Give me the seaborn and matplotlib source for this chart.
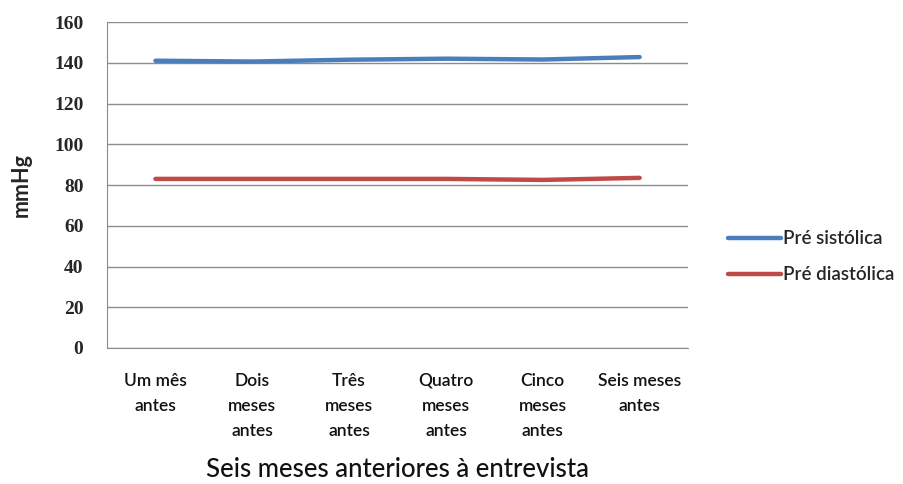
import matplotlib
matplotlib.use("Agg")
import matplotlib.pyplot as plt
import seaborn as sns
import pandas as pd

# Monthly average blood pressure (mmHg)
meses = ["Um mês\nantes", "Dois\nmeses\nantes", "Três\nmeses\nantes",
         "Quatro\nmeses\nantes", "Cinco\nmeses\nantes", "Seis meses\nantes"]
sistolica = [141.0, 140.6, 141.5, 142.0, 141.6, 142.8]
diastolica = [83.0, 83.0, 83.0, 83.0, 82.5, 83.5]
series = ["Pré sistólica", "Pré diastólica"]
cores = ["#4A7EBB", "#BE4B48"]
yticks = [0, 20, 40, 60, 80, 100, 120, 140, 160]

df = pd.DataFrame({
    "pos": list(range(len(meses))) * 2,
    "valor": sistolica + diastolica,
    "serie": [series[0]] * len(meses) + [series[1]] * len(meses),
})

sns.set_style("white")
fig = plt.figure(figsize=(9.04, 4.84), dpi=100)
ax = fig.add_axes([0.1184, 0.281, 0.6427, 0.6735])

sns.lineplot(data=df, x="pos", y="valor", hue="serie", palette=cores,
             linewidth=3.2, ax=ax, sort=False, legend=True)

ax.set_xlim(-0.5, len(meses) - 0.5)
ax.set_ylim(0, 160)
ax.set_yticks(yticks)
ax.set_yticklabels([str(v) for v in yticks], family="Liberation Serif",
                   fontweight="bold", fontsize=14)
ax.set_xticks(range(len(meses)))
ax.set_xticklabels(meses, family="Lato", fontsize=12.5, linespacing=1.7,
                   fontweight="semibold", color="#111111")

ax.yaxis.grid(True, color="#8c8c8c", linewidth=1)
ax.set_axisbelow(True)
for s in ["top", "right"]:
    ax.spines[s].set_visible(False)
ax.spines["left"].set_color("#8c8c8c")
ax.spines["bottom"].set_color("#8c8c8c")
ax.tick_params(axis="y", length=6, color="#8c8c8c", direction="out", pad=11)
ax.tick_params(axis="x", length=0, pad=18)

ax.set_ylabel("mmHg", family="Lato", fontweight="bold", fontsize=15.5,
              labelpad=16)
ax.set_xlabel("Seis meses anteriores à entrevista", family="Lato",
              fontsize=18.5, fontweight="medium", color="#111111")
ax.xaxis.set_label_coords(0.5, -0.335)

leg = ax.legend(loc="center left", bbox_to_anchor=(1.04, 0.28), frameon=False,
                handlelength=2.8, handletextpad=0.1, labelspacing=1.0,
                prop={"family": "Lato", "size": 13.5, "weight": "semibold"})
for h in leg.get_lines():
    h.set_linewidth(3.2)

fig.savefig("out.png", dpi=100, facecolor="white")
